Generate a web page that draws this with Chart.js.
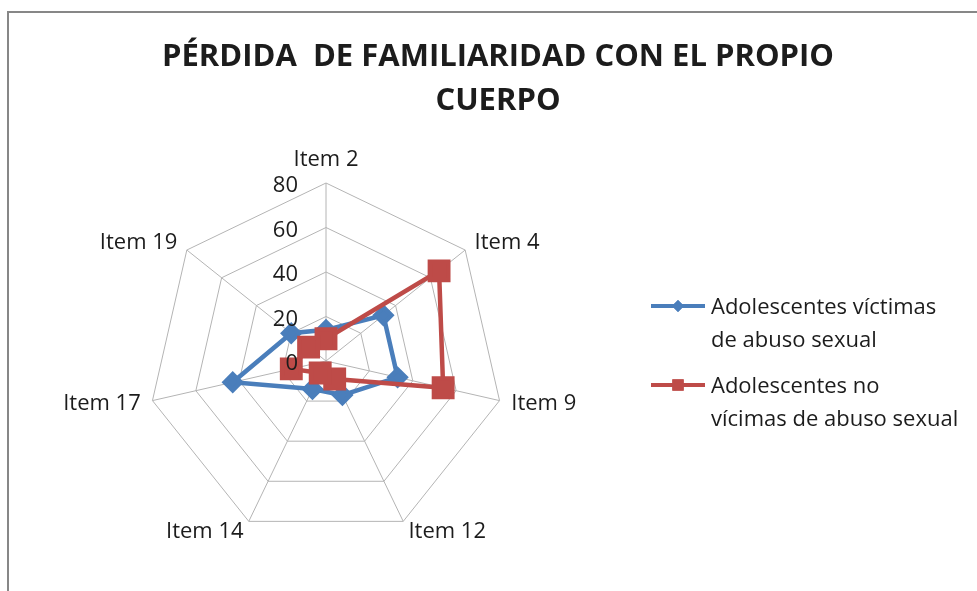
<!DOCTYPE html>
<html>
<head>
<meta charset="utf-8">
<script src="https://cdn.jsdelivr.net/npm/chart.js@4.4.0/dist/chart.umd.min.js"></script>
<style>
    html, body { margin: 0; padding: 0; background: #fff; }
    #wrap { position: relative; width: 977px; height: 591px; overflow: hidden; }
    #frame { position: absolute; left: 7px; top: 11px; width: 1000px; height: 700px; border: 2px solid #878787; }
    #chart { position: absolute; left: 0; top: 0; }
</style>
</head>
<body>
<div id="wrap">
    <div id="frame"></div>
    <canvas id="chart" width="977" height="591"></canvas>
</div>
<script>
// Chart data
const titleLines = ['PÉRDIDA  DE FAMILIARIDAD CON EL PROPIO', 'CUERPO'];
const itemLabels = ['Item 2', 'Item 4', 'Item 9', 'Item 12', 'Item 14', 'Item 17', 'Item 19'];
const victimas = [14, 33, 33, 17, 14, 43, 20];
const noVictimas = [10, 65, 54, 9, 6, 16, 10];
const tickValues = [0, 20, 40, 60, 80];
const seriesNames = [
    ['Adolescentes víctimas', 'de abuso sexual'],
    ['Adolescentes no', 'vícimas de abuso sexual']
];

const BLUE = '#4a7ebb';
const RED = '#be4b48';
const TEXT = '#1c1c1c';
const FONT = '"Open Sans", "DejaVu Sans", sans-serif';

/**
 * Draws title, tick labels, point labels and the legend on top of the radar
 */
const overlayPlugin = {
    id: 'overlay',
    afterDraw(chart) {
        const ctx = chart.ctx;
        const r = chart.scales.r;
        ctx.save();
        ctx.fillStyle = TEXT;

        // title
        ctx.font = 'bold 31px ' + FONT;
        ctx.textAlign = 'center';
        ctx.textBaseline = 'middle';
        titleLines.forEach((t, i) => ctx.fillText(t, 498, 57 + i * 44));

        // scale ticks, left of the first axis
        ctx.font = '22px ' + FONT;
        ctx.textAlign = 'right';
        tickValues.forEach(v => {
            const p = r.getPointPositionForValue(0, v);
            ctx.fillText(String(v), p.x - 28, p.y + 3);
        });

        // point labels
        itemLabels.forEach((lab, i) => {
            const p = r.getPointPosition(i, r.drawingArea + 12);
            const dx = p.x - r.xCenter;
            let y = p.y;
            if (Math.abs(dx) < 5) {
                ctx.textAlign = 'center';
                y -= 11;
            } else {
                ctx.textAlign = dx > 0 ? 'left' : 'right';
            }
            ctx.fillText(lab, p.x, y);
        });

        // legend
        const rows = [
            { color: BLUE, style: 'rectRot', y: 306, size: 6 },
            { color: RED, style: 'rect', y: 385, size: 8 }
        ];
        rows.forEach((row, i) => {
            ctx.strokeStyle = row.color;
            ctx.lineWidth = 4;
            ctx.beginPath();
            ctx.moveTo(651, row.y);
            ctx.lineTo(705, row.y);
            ctx.stroke();
            ctx.fillStyle = row.color;
            Chart.helpers.drawPoint(ctx, { pointStyle: row.style, radius: row.size, borderWidth: 0 }, 678, row.y);
            ctx.fill();
            ctx.fillStyle = TEXT;
            ctx.textAlign = 'left';
            seriesNames[i].forEach((t, j) => ctx.fillText(t, 711, row.y + 2 + j * 33));
        });

        ctx.restore();
    }
};

const chart = new Chart(document.getElementById('chart'), {
    type: 'radar',
    data: {
        labels: itemLabels,
        datasets: [
            {
                label: seriesNames[0].join(' '),
                data: victimas,
                borderColor: BLUE,
                backgroundColor: BLUE,
                pointBackgroundColor: BLUE,
                pointBorderColor: BLUE,
                pointStyle: 'rectRot',
                pointRadius: 8,
                borderWidth: 4.5,
                fill: false,
                order: 1
            },
            {
                label: seriesNames[1].join(' '),
                data: noVictimas,
                borderColor: RED,
                backgroundColor: RED,
                pointBackgroundColor: RED,
                pointBorderColor: RED,
                pointStyle: 'rect',
                pointRadius: 13,
                borderWidth: 4.5,
                fill: false,
                order: 0
            }
        ]
    },
    options: {
        responsive: false,
        animation: false,
        layout: {
            padding: { left: 148, top: 183, right: 473, bottom: 52 }
        },
        plugins: {
            legend: { display: false },
            title: { display: false },
            tooltip: { enabled: false }
        },
        scales: {
            r: {
                min: 0,
                max: 80,
                ticks: { display: false, stepSize: 20 },
                pointLabels: { display: false },
                grid: { color: '#b4b4b4', lineWidth: 1 },
                angleLines: { color: '#b4b4b4', lineWidth: 1 }
            }
        }
    },
    plugins: [overlayPlugin]
});
</script>
</body>
</html>
